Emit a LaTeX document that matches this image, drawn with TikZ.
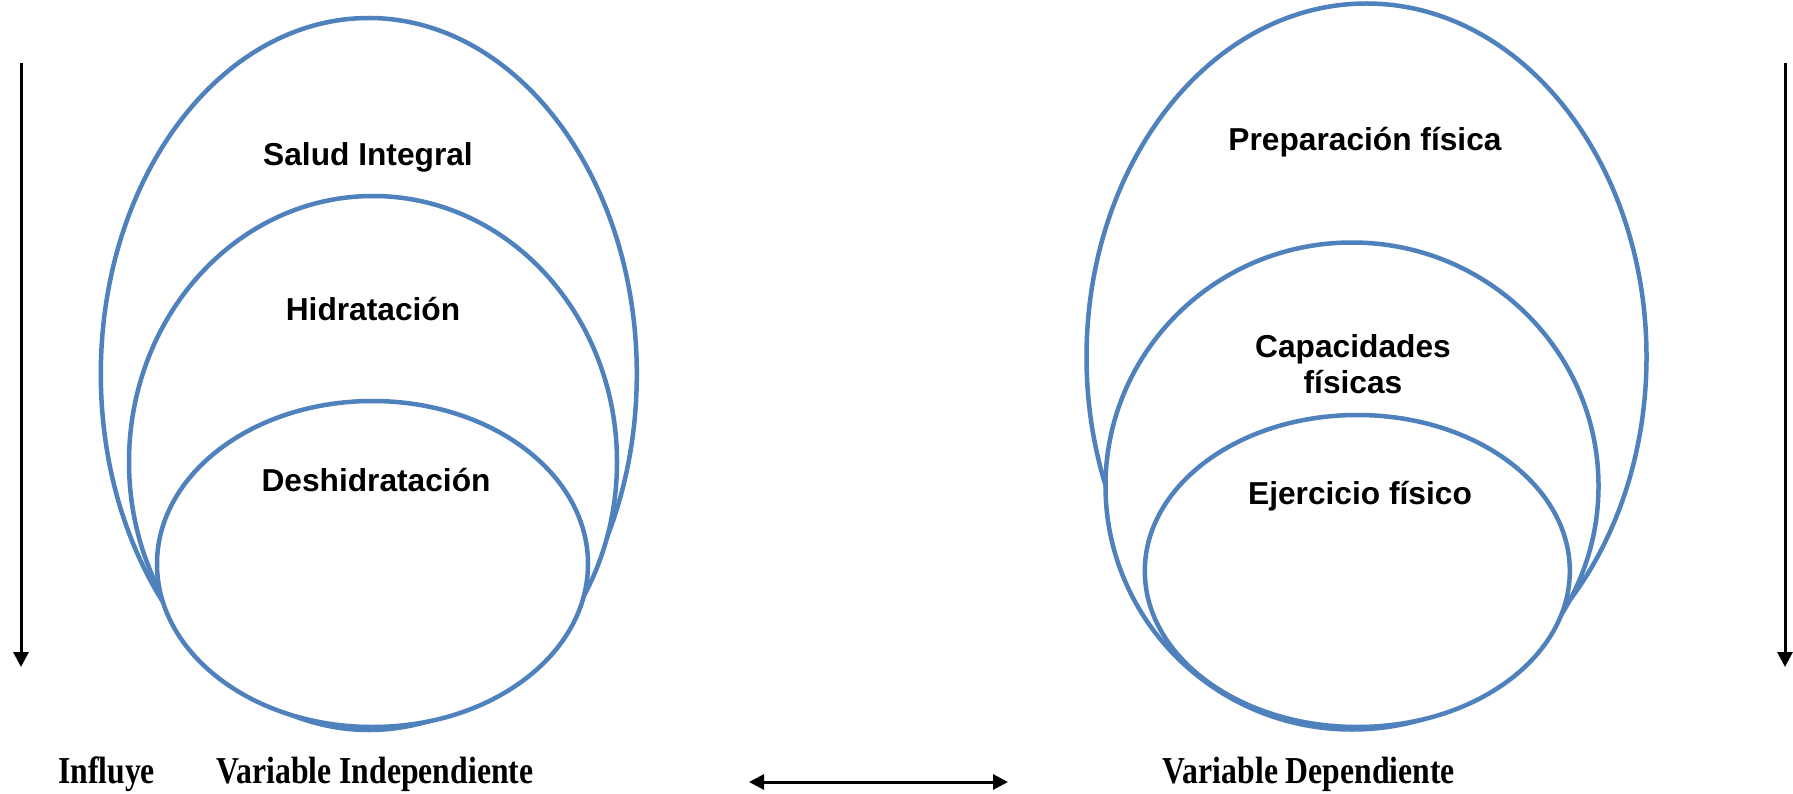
\documentclass[tikz,border=0pt]{standalone}
\usepackage{fontspec}
\usepackage{graphicx}
\setmainfont{Liberation Serif}
\newfontfamily\labfont{Liberation Sans}
\usetikzlibrary{shapes.geometric, arrows.meta}
\definecolor{ringblue}{HTML}{4F81BD}
% slightly tall captions under the groups
\newcommand{\tallcap}[1]{\scalebox{1}[1.2]{#1}}

\begin{document}
\begin{tikzpicture}[x=1pt, y=-1pt,
  ring/.style={ellipse, draw=ringblue, line width=4.5pt, fill=white, inner sep=0pt},
  lbl/.style={font=\labfont\bfseries\fontsize{31.7}{36}\selectfont, align=center, inner sep=0pt, anchor=base},
  caption/.style={font=\bfseries\fontsize{31.7}{38}\selectfont, inner sep=0pt, anchor=base},
  flow/.style={line width=3pt, -{Triangle[width=15pt,length=15pt]}},
  both/.style={line width=3pt, {Triangle[width=15pt,length=15pt]}-{Triangle[width=15pt,length=15pt]}}]
\useasboundingbox (0,0) rectangle (1793,794);

% left group: nested rings, outermost first
\node[ring, minimum width=536pt, minimum height=712pt] (salud) at (368.8,374) {};
\node[ring, minimum width=488pt, minimum height=532pt] (hidra) at (373,462) {};
\node[ring, minimum width=431pt, minimum height=326pt] (deshi) at (372.5,564) {};

% right group
\node[ring, minimum width=560pt, minimum height=707pt] (prep) at (1366.5,357) {};
\node[ring, minimum width=493pt, minimum height=487pt] (capac) at (1352,486) {};
\node[ring, minimum width=425pt, minimum height=312pt] (ejerc) at (1357.3,571) {};

% ring labels
\node[lbl] (tSalud) at (368,166) {Salud Integral};
\node[lbl] (tHidra) at (373,320) {Hidratación};
\node[lbl] (tDeshi) at (376,491) {Deshidratación};
\node[lbl] (tPrep) at (1365,151) {Preparación física};
\node[lbl] (tCapac) at (1353,393) {Capacidades\\físicas};
\node[lbl] (tEjerc) at (1360,504) {Ejercicio físico};

% captions
\node[caption] (cInfl) at (106.5,783) {\tallcap{Influye}};
\node[caption] (cIndep) at (375,783) {\tallcap{Variable Independiente}};
\node[caption] (cDep) at (1309,783) {\tallcap{Variable Dependiente}};

% arrows
\coordinate (lTop) at (21,63);
\coordinate (lEnd) at (21,667);
\coordinate (rTop) at (1785,63);
\coordinate (rEnd) at (1785,667);
\coordinate (hA) at (749,782);
\coordinate (hB) at (1008,782);
\draw[flow] (lTop) -- (lEnd);
\draw[flow] (rTop) -- (rEnd);
\draw[both] (hA) -- (hB);
\end{tikzpicture}
\end{document}
